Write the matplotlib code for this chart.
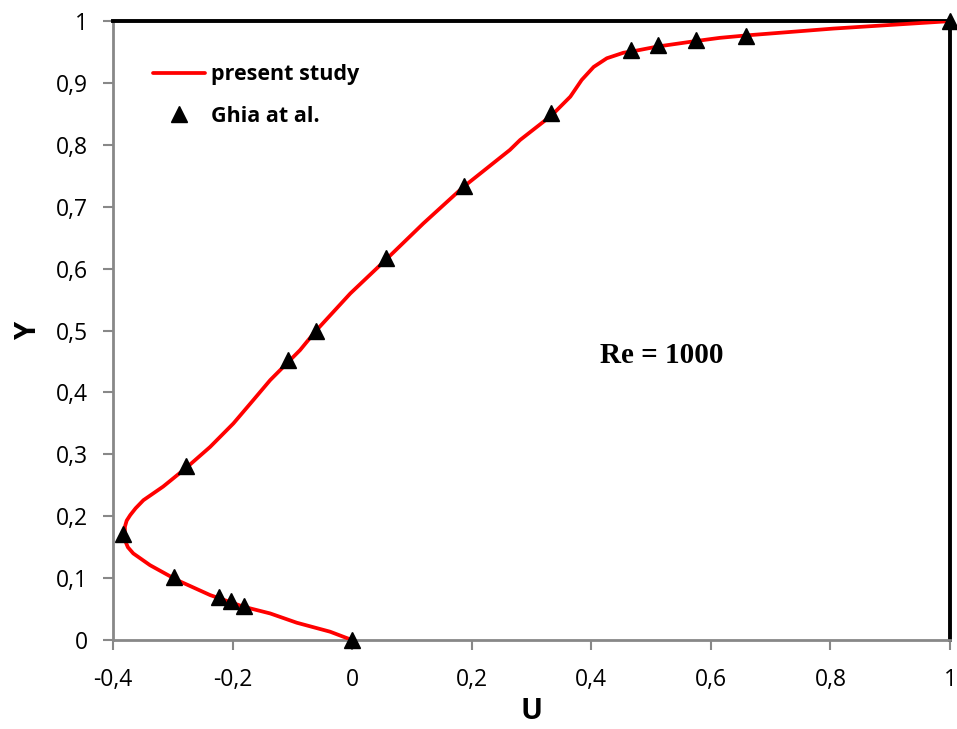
import matplotlib.pyplot as plt
from matplotlib.ticker import FuncFormatter

# present study (curve)
u_curve = [0.0, -0.0368, -0.0925, -0.137, -0.182, -0.2375, -0.293, -0.338,
           -0.366, -0.375, -0.380, -0.380, -0.377, -0.371, -0.362, -0.349,
           -0.316, -0.2765, -0.2375, -0.1985, -0.165, -0.137, -0.087, -0.062,
           -0.003, 0.057, 0.119, 0.186, 0.264, 0.281, 0.334, 0.365, 0.384,
           0.404, 0.426, 0.454, 0.468, 0.511, 0.576, 0.615, 0.660, 0.805, 1.0]
y_curve = [0.0, 0.0135, 0.028, 0.043, 0.054, 0.0727, 0.097, 0.121,
           0.140, 0.150, 0.1615, 0.183, 0.193, 0.202, 0.213, 0.226,
           0.248, 0.279, 0.312, 0.350, 0.388, 0.420, 0.4685, 0.498,
           0.560, 0.615, 0.673, 0.732, 0.792, 0.808, 0.848, 0.878, 0.905,
           0.926, 0.940, 0.949, 0.951, 0.959, 0.968, 0.973, 0.977, 0.988, 1.0]

# Ghia et al. Re = 1000
u_ghia = [1.0, 0.65928, 0.57492, 0.51117, 0.46604, 0.33304, 0.18719, 0.05702,
          -0.06080, -0.10648, -0.27805, -0.38289, -0.29730, -0.22220, -0.20196,
          -0.18109, 0.0]
y_ghia = [1.0, 0.9766, 0.9688, 0.9609, 0.9531, 0.8516, 0.7344, 0.6172, 0.5,
          0.4531, 0.2813, 0.1719, 0.1016, 0.0703, 0.0625, 0.0547, 0.0]

xticks = [-0.4, -0.2, 0, 0.2, 0.4, 0.6, 0.8, 1]
yticks = [0, 0.1, 0.2, 0.3, 0.4, 0.5, 0.6, 0.7, 0.8, 0.9, 1]

plt.rcParams['font.family'] = ['Open Sans', 'DejaVu Sans']

fig = plt.figure(figsize=(9.57, 7.29), dpi=100)
ax = fig.add_axes([0.118, 0.122, 0.8747, 0.849])

ax.plot(u_curve, y_curve, color='#ff0000', lw=2.7, label='present study',
        solid_capstyle='round', solid_joinstyle='round', zorder=3)
ax.plot(u_ghia, y_ghia, linestyle='none', marker='^', color='black',
        markersize=12, label='Ghia at al.', clip_on=False, zorder=4)

ax.set_xlim(-0.4, 1)
ax.set_ylim(0, 1)
ax.set_xticks(xticks)
ax.set_yticks(yticks)
fmt = FuncFormatter(lambda v, p: ('%g' % round(v, 2)).replace('.', ','))
ax.xaxis.set_major_formatter(fmt)
ax.yaxis.set_major_formatter(fmt)
ax.tick_params(direction='out', length=7, width=1.5, color='#888888',
               labelsize=16.5)
ax.tick_params(axis='x', pad=13)
ax.tick_params(axis='y', pad=11)

for s in ['left', 'bottom']:
    ax.spines[s].set_color('#888888')
    ax.spines[s].set_linewidth(2)
for s in ['top', 'right']:
    ax.spines[s].set_color('black')
    ax.spines[s].set_linewidth(2.8)

ax.set_xlabel('U', fontsize=21, fontweight='bold', labelpad=4)
ax.set_ylabel('Y', fontsize=21, fontweight='bold', labelpad=9)

ax.text(0.518, 0.46, 'Re = 1000', fontsize=21, fontweight='bold',
        family='Liberation Serif', ha='center', va='center')

leg = ax.legend(loc='upper left', bbox_to_anchor=(0.048, 0.93), frameon=False,
                prop={'size': 15.5, 'weight': 'bold'}, handlelength=2.4,
                handletextpad=0.3, labelspacing=0.95, borderpad=0,
                borderaxespad=0)

fig.savefig('out.png', dpi=100)
